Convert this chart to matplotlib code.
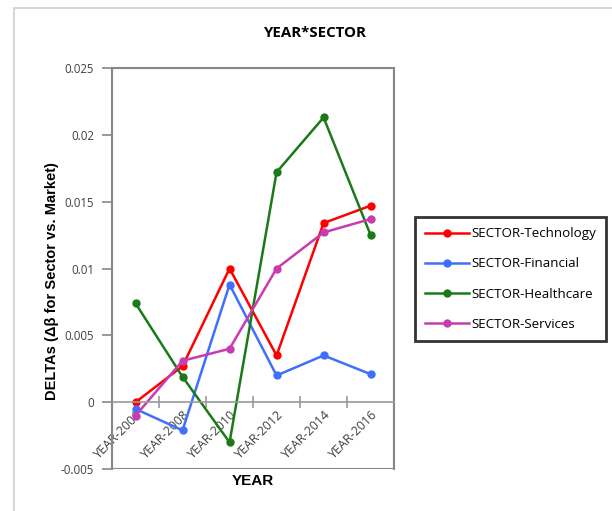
import matplotlib
matplotlib.use("Agg")
import matplotlib.pyplot as plt
import numpy as np
from matplotlib.patches import Rectangle

# values
years = ['YEAR-2006', 'YEAR-2008', 'YEAR-2010', 'YEAR-2012', 'YEAR-2014', 'YEAR-2016']
technology = [0.0000, 0.0027, 0.0100, 0.0035, 0.0134, 0.0147]
financial = [-0.0005, -0.0021, 0.0088, 0.0020, 0.0035, 0.0021]
healthcare = [0.0074, 0.0019, -0.0030, 0.0172, 0.0213, 0.0125]
services = [-0.0010, 0.0031, 0.0040, 0.0100, 0.0127, 0.0137]

series = [
    ('SECTOR-Technology', technology, '#ff0000'),
    ('SECTOR-Financial', financial, '#3f6fff'),
    ('SECTOR-Healthcare', healthcare, '#1a7a1a'),
    ('SECTOR-Services', services, '#c83cb0'),
]

fig = plt.figure(figsize=(6.12, 5.11), dpi=100)
# light grey outer frame like the spreadsheet chart area
fig.patches.append(Rectangle((14 / 612, -0.1), 1.2, 1 - 8 / 511 + 0.1,
                             transform=fig.transFigure, fill=False,
                             ec='#d0d0d0', lw=1.2))

ax = fig.add_axes([0.183, 0.082, 0.461, 0.785])
x = np.arange(len(years))
for label, vals, color in series:
    ax.plot(x, vals, '-o', color=color, lw=1.8, ms=5, label=label)

ax.set_xlim(-0.5, len(years) - 0.5)
ax.set_ylim(-0.005, 0.025)
ax.set_yticks(np.arange(-0.005, 0.0251, 0.005))
ax.set_yticklabels(['-0.005', '0', '0.005', '0.01', '0.015', '0.02', '0.025'])

# outer box of the plot area
for s in ['left', 'right', 'top']:
    ax.spines[s].set_color('#888888')
    ax.spines[s].set_linewidth(1.5)
ax.add_patch(Rectangle((0, 0), 1, 1, transform=ax.transAxes, fill=False,
                       ec='#888888', lw=1.5, zorder=0))
# category axis crosses at zero
ax.spines['bottom'].set_position(('data', 0))
ax.spines['bottom'].set_color('#999999')
ax.spines['bottom'].set_linewidth(1.2)
ax.set_xticks(x)
ax.set_xticks(x[:-1] + 0.5, minor=True)
ax.set_xticklabels(years, rotation=45, ha='right', rotation_mode='anchor',
                   fontsize=9, color='#404040', family='Open Sans')
ax.tick_params(axis='x', which='major', length=0, pad=4)
ax.tick_params(axis='x', which='minor', length=8, direction='inout',
               color='#999999', width=1.2)
ax.tick_params(axis='y', length=7, color='#888888', width=1.2, pad=6,
               labelsize=8.3, labelcolor='#404040')
for t in ax.get_yticklabels():
    t.set_family('Open Sans')

fig.text(52 / 612, 1 - 281 / 511, 'DELTAs (\u0394\u03b2 for Sector vs. Market)',
         rotation=90, ha='center', va='center', fontsize=10.5,
         fontweight='bold', family='Liberation Sans')
fig.text(253 / 612, 1 - 481 / 511, 'YEAR', ha='center', va='center',
         fontsize=11, fontweight='bold', family='Liberation Sans')
fig.text(314 / 612, 1 - 33 / 511, 'YEAR*SECTOR', ha='center', va='center',
         fontsize=10.8, fontweight='bold', family='Open Sans')

leg = fig.legend(loc='center left', bbox_to_anchor=(415 / 612, 1 - 279 / 511),
                 frameon=True, fancybox=False, handlelength=3.3,
                 handletextpad=0.15, borderaxespad=0,
                 prop={'family': 'Open Sans', 'size': 9.6},
                 labelspacing=1.28, borderpad=0.75)
leg.get_frame().set_edgecolor('black')
leg.get_frame().set_linewidth(2)

fig.savefig('out.png', dpi=100)
